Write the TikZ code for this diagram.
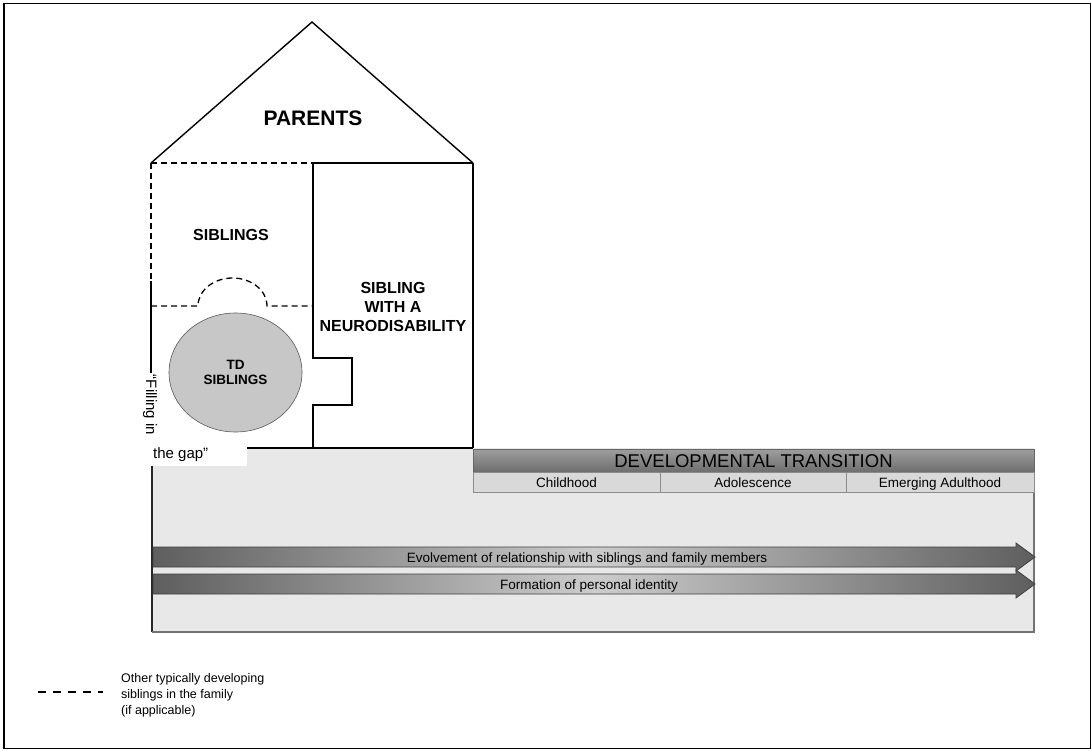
\documentclass[tikz,border=0pt]{standalone}
\usepackage{fontspec}
\setmainfont{Liberation Sans}
\usetikzlibrary{shapes.geometric}
\begin{document}
\begin{tikzpicture}[x=1pt,y=-1pt,
  wall/.style={line width=1.4pt,black},
  dashwall/.style={line width=1.3pt,black,dash pattern=on 6pt off 4pt},
  houselabel/.style={font=\bfseries\fontsize{16}{19}\selectfont,align=center,inner sep=0pt},
  stagecell/.style={draw=black!45,line width=0.7pt,fill=black!15},
  stagelabel/.style={font=\fontsize{13.5}{16}\selectfont,inner sep=0pt,anchor=base},
  arrowband/.style={left color=black!63,right color=black!63,middle color=black!20,draw=black!75,line width=0.8pt},
  arrowlabel/.style={font=\fontsize{13.5}{16}\selectfont,inner sep=0pt,anchor=base},
  tdcircle/.style={ellipse,draw=black!65,line width=0.6pt,fill=black!22,minimum width=133pt,minimum height=119pt,inner sep=0pt,align=center,font=\bfseries\fontsize{13.5}{15.5}\selectfont}
]
\useasboundingbox (0,0) rectangle (1092,751);
% frame
\draw[line width=1.8pt] (4,3.5) rectangle (1090.5,748.5);

% timeline panel
\fill[black!9] (152,448) rectangle (1034,632);
\draw[line width=1.2pt,black!85] (152,448) -- (152,632);
\draw[line width=1.2pt,black!55] (152,632) -- (1034,632) -- (1034,472);

% developmental transition header
\shade[top color=black!38,bottom color=black!57] (473,449) rectangle (1034,472);
\draw[black!60,line width=0.8pt] (473,449) rectangle (1034,472);
\node[font=\fontsize{18.5}{20}\selectfont,inner sep=0pt,anchor=base] (devtrans) at (753.5,467.5) {DEVELOPMENTAL TRANSITION};
\draw[stagecell] (473,472) rectangle (660,492);
\draw[stagecell] (660,472) rectangle (846,492);
\draw[stagecell] (846,472) rectangle (1034,492);
\node[stagelabel] (child) at (566.5,487) {Childhood};
\node[stagelabel] (adol) at (753,487) {Adolescence};
\node[stagelabel] (emerg) at (940,487) {Emerging Adulthood};

% long arrows
\shadedraw[arrowband] (153,574) -- (1016,574) -- (1016,570) -- (1035,584) -- (1016,598) -- (1016,594) -- (153,594) -- cycle;
\shadedraw[arrowband] (153,547) -- (1016,547) -- (1016,543) -- (1035,557) -- (1016,571) -- (1016,567) -- (153,567) -- cycle;
\node[arrowlabel] (rel) at (587,562) {Evolvement of relationship with siblings and family members};
\node[arrowlabel] (ident) at (589,589) {Formation of personal identity};

% house
\draw[wall,line join=miter] (151,163) -- (312,22) -- (473,163);
\draw[wall] (313,163) -- (473,163);
\draw[dashwall] (151,163) -- (313,163);
\draw[dashwall] (151,163) -- (151,281);
\draw[wall] (151,281) -- (151,448);
\draw[wall] (473,163) -- (473,448);
\draw[wall] (313,163) -- (313,358) -- (352,358) -- (352,405) -- (313,405) -- (313,448);
\draw[line width=2pt] (247,448) -- (473,448);
\draw[dashwall] (151,306) -- (198,306) arc[start angle=180,end angle=360,x radius=34.5,y radius=28] -- (313,306);

% "filling in the gap" caption
\fill[white] (140,428) rectangle (247,466);
\node[anchor=west,inner sep=0pt,font=\fontsize{15}{18}\selectfont] (gap) at (153,455) {the gap”};
\node[rotate=-90,fill=white,inner sep=1.5pt,font=\fontsize{15}{18}\selectfont] (filling) at (150,405) {“Filling in};

\node[font=\bfseries\fontsize{21}{24}\selectfont,inner sep=0pt] (parents) at (313,118) {PARENTS};
\node[houselabel] (sibs) at (231,235) {SIBLINGS};
\node[houselabel] (nd) at (393,307) {SIBLING\\WITH A\\NEURODISABILITY};
\node[tdcircle] (td) at (235.5,372.5) {TD\\SIBLINGS};

% legend
\draw[line width=2pt,dash pattern=on 8pt off 7pt] (38,692) -- (103,692);
\node[anchor=west,align=left,inner sep=0pt,font=\fontsize{12.5}{16}\selectfont] (legend) at (121,695) {Other typically developing\\siblings in the family\\(if applicable)};
\end{tikzpicture}
\end{document}
